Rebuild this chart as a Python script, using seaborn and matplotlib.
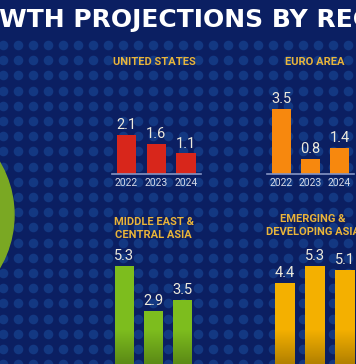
import numpy as np
import pandas as pd
import matplotlib.pyplot as plt
import seaborn as sns
from matplotlib.patches import Circle

# Data
years = ["2022", "2023", "2024"]
us_growth = [2.1, 1.6, 1.1]
euro_growth = [3.5, 0.8, 1.4]
mena_growth = [5.3, 2.9, 3.5]
asia_growth = [4.4, 5.3, 5.1]

# Colours
NAVY = "#0b1f62"
DOT = "#133882"
GOLD = "#e9b43a"
TXT = "#eeeadc"
W, H = 356, 364
PX = 18.7  # pixels per percentage point

plt.rcParams["font.family"] = ["Roboto", "DejaVu Sans"]

fig = plt.figure(figsize=(W / 100, H / 100), dpi=100, facecolor=NAVY)

# background layer in pixel units
bg = fig.add_axes([0, 0, 1, 1])
bg.set_xlim(0, W)
bg.set_ylim(0, H)
bg.axis("off")

# halftone dots
gx, gy = np.meshgrid(np.arange(3, W + 10, 15), np.arange(H - 45, -10, -15.2))
bg.scatter(gx.ravel(), gy.ravel(), s=48, color=DOT, linewidths=0, zorder=0)

# green globe on the left
bg.add_patch(Circle((-90, H - 215), 104, color="#7aa823", zorder=1))

# title, partly outside the frame like the source crop
title = "GROWTH PROJECTIONS BY REGION"
tkw = dict(fontsize=18, fontweight="bold", color="white", family="DejaVu Sans")
r = fig.canvas.get_renderer()


def text_w(s):
    t = bg.text(0, 0, s, **tkw)
    w = t.get_window_extent(r).width
    t.remove()
    return w


start = text_w("GROWTH P") - text_w("P")
span = text_w("PROJECTIONS BY")
bg.text(190.5 - start - span / 2, H - 27, title, ha="left", va="baseline", **tkw)


def panel(left, bottom, width, ymax, values, color, name, name_xy, show_years):
    ax = fig.add_axes([left / W, bottom / H, width / W, ymax * PX / H])
    df = pd.DataFrame({"year": years, "growth": values})
    sns.barplot(data=df, x="year", y="growth", color=color, width=0.65,
                saturation=1, ax=ax)
    ax.set_facecolor("none")
    ax.set_ylim(0, ymax)
    ax.set_xlim(-0.5, 2.5)
    ax.set_xlabel("")
    ax.set_ylabel("")
    ax.set_yticks([])
    for s in ["top", "right", "left"]:
        ax.spines[s].set_visible(False)
    ax.spines["bottom"].set_color("#8594c4")
    ax.spines["bottom"].set_linewidth(1.2)
    ax.tick_params(axis="x", length=0, pad=3, labelsize=7.5, labelcolor="#d5d9e6")
    if not show_years:
        ax.set_xticklabels([])
    ax.bar_label(ax.containers[0], labels=[f"{v:.1f}" for v in values],
                 padding=2, fontsize=10.5, color=TXT)
    bg.text(name_xy[0], name_xy[1], name, ha="center", va="center",
            multialignment="center", linespacing=1.35, fontsize=8,
            fontweight="bold", color=GOLD)
    return ax


def shade(ax, top=1.9):
    # darker lower part of the bars
    grad = np.linspace(0, 1, 64).reshape(-1, 1)
    cmap = plt.matplotlib.colors.LinearSegmentedColormap.from_list(
        "sh", [(0, 0, 0, 0.28), (0, 0, 0, 0.0)])
    for p in ax.patches:
        x0 = p.get_x()
        im = ax.imshow(grad, extent=[x0, x0 + p.get_width(), 0, top],
                       origin="lower", aspect="auto", cmap=cmap, zorder=3)
        im.set_clip_path(p)
    ax.set_xlim(-0.5, 2.5)


panel(111.5, 190, 89.5, 4, us_growth, "#d8261b", "UNITED STATES", (154.5, H - 62), True)
panel(267, 190, 87, 4, euro_growth, "#f7880e", "EURO AREA", (314.5, H - 62), True)
a3 = panel(110, -1, 87, 6, mena_growth, "#7dbd1e", "MIDDLE EAST &\nCENTRAL ASIA",
           (153.5, H - 228.5), False)
a4 = panel(270, -1, 90, 6, asia_growth, "#f4b000", "EMERGING &\nDEVELOPING ASIA",
           (313, H - 225.5), False)
a3.spines["bottom"].set_visible(False)
a4.spines["bottom"].set_visible(False)
shade(a3)
shade(a4)

fig.savefig("out.png", dpi=100, facecolor=NAVY)
